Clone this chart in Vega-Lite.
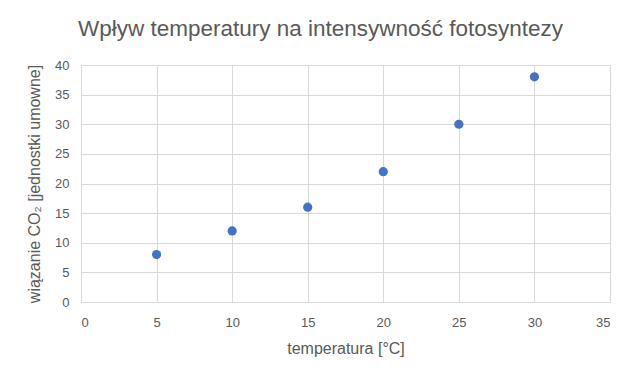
{
  "$schema": "https://vega.github.io/schema/vega-lite/v6.json",
  "autosize": {"type": "none"},
  "width": 529,
  "height": 237,
  "padding": {"left": 81, "top": 65, "right": 30, "bottom": 82},
  "background": "white",
  "config": {
    "font": "Liberation Sans",
    "view": {"stroke": null},
    "axis": {
      "labelColor": "#595959",
      "titleColor": "#595959",
      "labelFontSize": 13,
      "titleFontSize": 16,
      "titleFontWeight": "normal",
      "gridColor": "#d9d9d9",
      "domain": false,
      "ticks": false
    }
  },
  "title": {
    "text": "Wpływ temperatury na intensywność fotosyntezy",
    "fontSize": 22.5,
    "fontWeight": "normal",
    "color": "#595959",
    "anchor": "middle",
    "dx": -25,
    "offset": 19
  },
  "data": {
    "values": [
      {"t": 5, "co2": 8},
      {"t": 10, "co2": 12},
      {"t": 15, "co2": 16},
      {"t": 20, "co2": 22},
      {"t": 25, "co2": 30},
      {"t": 30, "co2": 38}
    ]
  },
  "mark": {"type": "point", "filled": true, "opacity": 1, "size": 85, "color": "#4472C4"},
  "encoding": {
    "x": {
      "field": "t",
      "type": "quantitative",
      "scale": {"domain": [0, 35], "nice": false},
      "axis": {"values": [0, 5, 10, 15, 20, 25, 30, 35], "title": "temperatura [°C]", "labelPadding": 14, "titlePadding": 11}
    },
    "y": {
      "field": "co2",
      "type": "quantitative",
      "scale": {"domain": [0, 40], "nice": false},
      "axis": {"values": [0, 5, 10, 15, 20, 25, 30, 35, 40], "title": "wiązanie CO₂ [jednostki umowne]", "labelPadding": 12, "titlePadding": 12}
    }
  }
}
